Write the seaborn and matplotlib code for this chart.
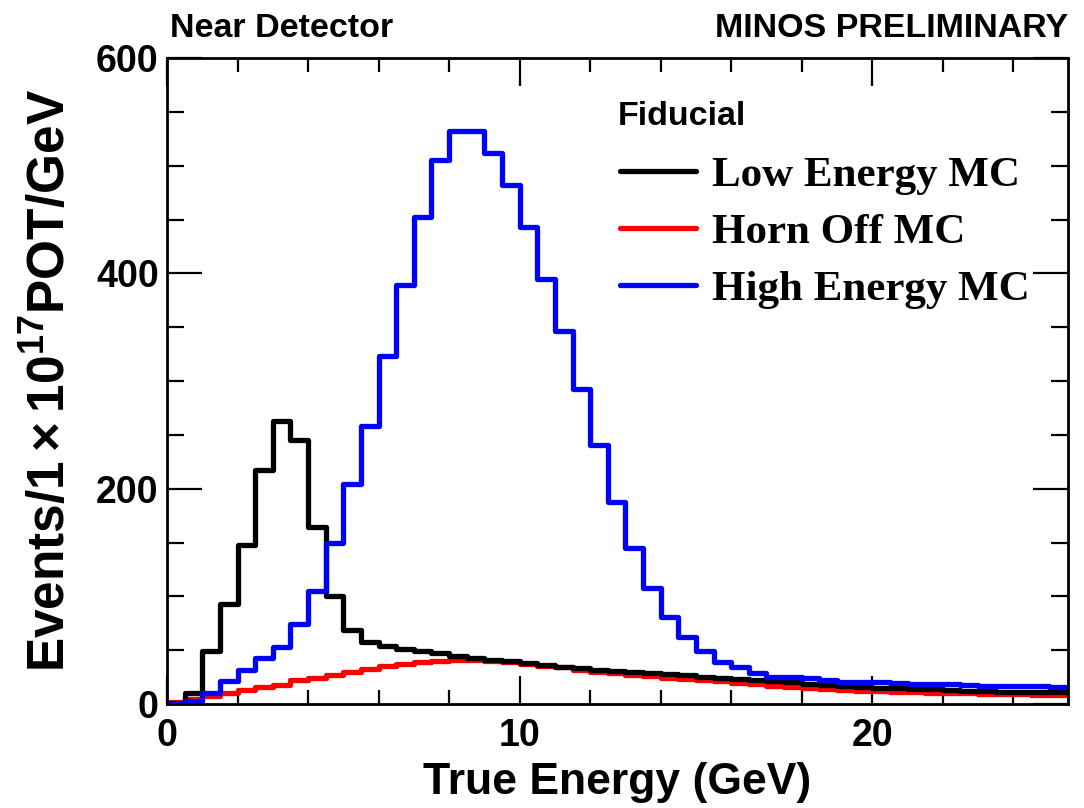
import numpy as np
import pandas as pd
import matplotlib
matplotlib.use("Agg")
import matplotlib.pyplot as plt
from matplotlib.lines import Line2D
import seaborn as sns

# ---- data (bin width 0.5 GeV, bins 0 .. 25.5 GeV) ----
bin_edges = [i * 0.5 for i in range(52)]

low_energy_mc = [1, 10, 49, 93, 148, 217, 263, 245, 164, 100,
                 69, 58, 54, 51.5, 49, 47, 45, 43, 41, 39.5,
                 38, 36, 34.5, 33, 32, 31, 30, 29, 28, 27,
                 25.5, 24.5, 23.5, 22.5, 21.5, 20.5, 19, 18, 17, 16,
                 15, 14.5, 14, 13.5, 13, 12.5, 12, 11.5, 11.2, 11,
                 10.8]

horn_off_mc = [2, 4.5, 7, 10, 13, 15.5, 18, 22, 24.5, 27,
               29.5, 32.5, 35, 37, 39, 40, 40.5, 40.5, 40, 39,
               37, 35.5, 34, 32, 30, 28.5, 27, 26, 24.5, 23.5,
               22, 21, 19.5, 18.5, 17, 16, 15, 14, 13, 12.5,
               12, 11.5, 11, 10.5, 10, 9.8, 9.5, 9.2, 9, 8.7,
               8.5]

high_energy_mc = [0, 3, 10, 21, 32, 43, 53, 74, 105, 150,
                  204, 258, 323, 389, 452, 505, 532, 532, 512, 482,
                  443, 395, 346, 293, 241, 188, 145, 108, 81, 62,
                  49, 39, 34, 29, 25.5, 25, 24, 22, 20.5, 20,
                  20, 19.5, 18.5, 18.5, 18.5, 17.5, 17, 17, 17, 16.5,
                  16]

series_names = ["Low Energy MC", "Horn Off MC", "High Energy MC"]
series_colors = ["#000000", "#ff0000", "#0000ff"]

x_major = [0, 10, 20]
y_major = [0, 200, 400, 600]

# ---- style ----
sns.set_theme(style="ticks")
plt.rcParams["font.family"] = ["Liberation Sans", "DejaVu Sans"]
plt.rcParams["font.weight"] = "bold"
plt.rcParams["text.color"] = "black"
plt.rcParams["axes.labelcolor"] = "black"
plt.rcParams["xtick.color"] = "black"
plt.rcParams["ytick.color"] = "black"
plt.rcParams["mathtext.fontset"] = "custom"
plt.rcParams["mathtext.rm"] = "Liberation Sans:bold"
plt.rcParams["mathtext.it"] = "Liberation Sans:bold"
plt.rcParams["mathtext.bf"] = "Liberation Sans:bold"

fig = plt.figure(figsize=(10.84, 8.08), dpi=100)
ax = fig.add_axes([167 / 1084, 1 - 704 / 808, (1068 - 167) / 1084, (704 - 58) / 808])

centers = [(a + b) / 2 for a, b in zip(bin_edges[:-1], bin_edges[1:])]
for vals, col in zip([horn_off_mc, low_energy_mc, high_energy_mc],
                     [series_colors[1], series_colors[0], series_colors[2]]):
    df = pd.DataFrame({"energy": centers, "w": vals})
    sns.histplot(data=df, x="energy", weights="w", bins=list(bin_edges),
                 element="step", fill=False, color=col, linewidth=3.8, ax=ax)

ax.set_xlim(0, 25.55)
ax.set_ylim(0, 600)
ax.set_xticks(x_major)
ax.set_xticks(np.arange(0, 26, 2), minor=True)
ax.set_yticks(y_major)
ax.set_yticks(np.arange(0, 601, 50), minor=True)
ax.tick_params(axis="both", which="both", direction="in", top=True, right=True,
               colors="black", labelcolor="black", width=1.6, labelsize=27, pad=8)
ax.tick_params(axis="x", which="major", length=20)
ax.tick_params(axis="x", which="minor", length=10)
ax.tick_params(axis="y", which="major", length=25)
ax.tick_params(axis="y", which="minor", length=12)
ax.tick_params(axis="x", which="major", pad=10)
ax.tick_params(axis="y", which="major", pad=6)
for lab in ax.get_xticklabels() + ax.get_yticklabels():
    lab.set_fontweight("bold")
for s in ax.spines.values():
    s.set_linewidth(2)
    s.set_color("black")

ax.set_xlabel("True Energy (GeV)", fontsize=32, fontweight="bold", labelpad=6, color="black")
ax.set_ylabel(r"Events/$1\times10^{17}$POT/GeV", fontsize=37, fontweight="bold",
              labelpad=14, color="black")

fig.text(170 / 1084, 1 - 37 / 808, "Near Detector", fontsize=24.5, fontweight="bold",
         ha="left", va="baseline", color="black")
fig.text(1068 / 1084, 1 - 37 / 808, "MINOS PRELIMINARY", fontsize=24.5, fontweight="bold",
         ha="right", va="baseline", color="black")

ax.text((618 - 167) / 901, (704 - 125) / 646, "Fiducial", transform=ax.transAxes,
        fontsize=24.5, fontweight="bold", ha="left", va="baseline", color="black")

handles = [Line2D([], [], color=c, linewidth=3.8) for c in series_colors]
leg = ax.legend(handles, series_names, loc="upper left",
                bbox_to_anchor=((620 - 167) / 901, (704 - 156) / 646),
                frameon=False, borderpad=0, borderaxespad=0,
                handlelength=76 / 43, handletextpad=16 / 43, labelspacing=0.41,
                prop={"family": "Liberation Serif", "weight": "bold", "size": 31})
for t in leg.get_texts():
    t.set_color("black")

fig.savefig("out.png", dpi=100)
